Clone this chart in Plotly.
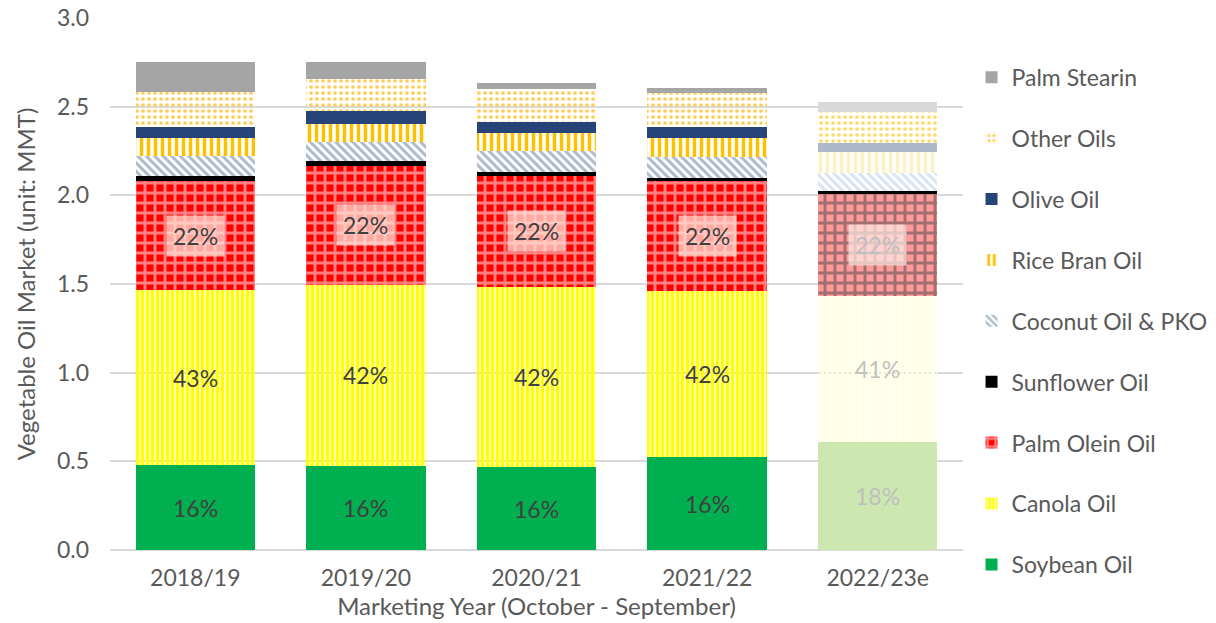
import plotly.graph_objects as go

years = ["2018/19", "2019/20", "2020/21", "2021/22", "2022/23e"]

soybean = [0.479, 0.474, 0.466, 0.523, 0.609]
canola = [0.987, 1.021, 1.019, 0.940, 0.821]
palm_olein = [0.615, 0.673, 0.624, 0.618, 0.583]
sunflower = [0.028, 0.026, 0.025, 0.015, 0.010]
coconut = [0.113, 0.109, 0.116, 0.119, 0.102]
rice_bran = [0.104, 0.100, 0.104, 0.107, 0.120]
olive = [0.062, 0.073, 0.062, 0.066, 0.052]
other = [0.195, 0.179, 0.184, 0.188, 0.175]
palm_stearin = [0.171, 0.099, 0.032, 0.028, 0.053]

soy_labels = ["16%", "16%", "16%", "16%", "18%"]
canola_labels = ["43%", "42%", "42%", "42%", "41%"]
olein_labels = ["22%", "22%", "22%", "22%", "22%"]

FONT = "Lato"
TXT = "#595959"
FS = 23

def five(a, b):
    return [a] * 4 + [b]

series = [
    dict(name="Soybean Oil", y=soybean, color=five("#00B050", "#CCE8B0"), pattern=None),
    dict(name="Canola Oil", y=canola, color=five("#FFFF00", "#FFFFE2"),
         pattern=dict(shape="|", fillmode="replace", bgcolor="white", size=5, solidity=0.72)),
    dict(name="Palm Olein Oil", y=palm_olein, color=five("#FF0000", "#FF9A9A"),
         pattern=dict(shape="+", fillmode="overlay", fgcolor="white", size=10, solidity=0.5)),
    dict(name="Sunflower Oil", y=sunflower, color=five("#000000", "#000000"), pattern=None),
    dict(name="Coconut Oil & PKO", y=coconut, color=five("#ADB9CA", "#DAE3F3"),
         pattern=dict(shape="\\", fillmode="replace", bgcolor="white", size=6, solidity=0.5)),
    dict(name="Rice Bran Oil", y=rice_bran, color=five("#FFC000", "#FFF0C4"),
         pattern=dict(shape="|", fillmode="replace", bgcolor="white", size=7, solidity=0.5)),
    dict(name="Olive Oil", y=olive, color=five("#264478", "#ADB9CA"), pattern=None),
    dict(name="Other Oils", y=other, color=five("#FFCC55", "#FFD966"),
         pattern=dict(shape=".", fillmode="replace", bgcolor="white", size=6, solidity=0.3)),
    dict(name="Palm Stearin", y=palm_stearin, color=five("#A5A5A5", "#D9D9D9"), pattern=None),
]

fig = go.Figure()
n = len(series)
for i, s in enumerate(series):
    marker = dict(color=s["color"], line=dict(width=0))
    if s["pattern"]:
        marker["pattern"] = s["pattern"]
    fig.add_trace(go.Bar(x=years, y=s["y"], name=s["name"], marker=marker,
                         legendgroup=str(i), legendrank=n - i))

def centres(base, vals):
    return [b + v / 2 for b, v in zip(base, vals)]

zero = [0] * 5
c_soy = centres(zero, soybean)
c_can = centres(soybean, canola)
c_ole = centres([a + b for a, b in zip(soybean, canola)], palm_olein)
for j, yr in enumerate(years):
    col = "#404040" if j < 4 else "#BFBFBF"
    fig.add_annotation(x=yr, y=c_soy[j], text=soy_labels[j], showarrow=False,
                       font=dict(family=FONT, size=FS, color=col))
    fig.add_annotation(x=yr, y=c_can[j], text=canola_labels[j], showarrow=False,
                       font=dict(family=FONT, size=FS, color=col))
    fig.add_annotation(x=yr, y=c_ole[j], text=olein_labels[j], showarrow=False,
                       font=dict(family=FONT, size=FS, color=col),
                       bgcolor="rgba(255,225,215,0.75)" if j < 4 else "rgba(255,235,228,0.7)",
                       borderpad=6)

fig.update_layout(
    barmode="stack",
    bargap=0.3,
    width=1216, height=623,
    margin=dict(l=110, r=253, t=18, b=73, autoexpand=False),
    plot_bgcolor="white", paper_bgcolor="white",
    font=dict(family=FONT, size=FS, color=TXT),
    legend=dict(traceorder="grouped", tracegroupgap=28, maxheight=620,
                x=1.01, xanchor="left", y=0.43, yanchor="middle",
                font=dict(family=FONT, size=FS, color=TXT)),
    xaxis=dict(showgrid=False, ticks="", showline=False, automargin=False,
               ticklabelstandoff=12,
               title=dict(text="Marketing Year (October - September)", standoff=0,
                          font=dict(family=FONT, size=24, color=TXT))),
    yaxis=dict(range=[0, 3.0], dtick=0.5, tickformat=".1f", gridcolor="#D9D9D9",
               gridwidth=2, zeroline=True, zerolinecolor="#D9D9D9", zerolinewidth=2,
               ticks="", ticklabelstandoff=20, automargin=False,
               title=dict(text="Vegetable Oil Market (unit: MMT)", standoff=14,
                          font=dict(family=FONT, size=24, color=TXT))),
)

fig.write_html("out.html", config={"displayModeBar": False},
               post_script="document.body.style.margin='0';")
